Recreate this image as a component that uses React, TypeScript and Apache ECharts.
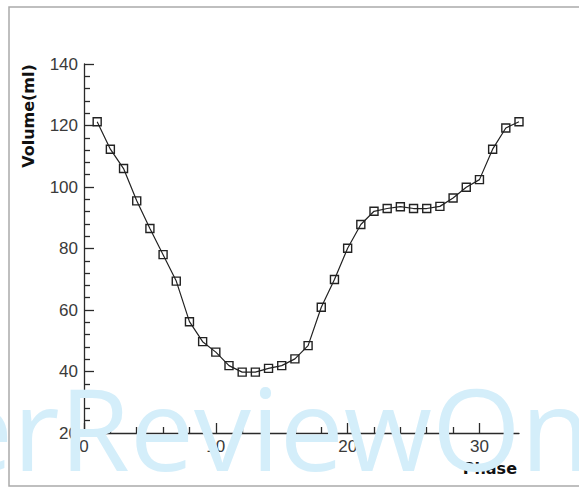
import React, { useEffect, useRef } from "react";
import * as echarts from "echarts";

const phases = [1, 2, 3, 4, 5, 6, 7, 8, 9, 10, 11, 12, 13, 14, 15, 16, 17, 18, 19, 20, 21, 22, 23, 24, 25, 26, 27, 28, 29, 30, 31, 32, 33];
const volumes = [121.2, 112.3, 106.0, 95.5, 86.5, 78.0, 69.4, 56.2, 49.7, 46.3, 41.9, 39.8, 39.8, 41.0, 41.9, 44.1, 48.4, 60.9, 69.9, 80.1, 87.8, 92.1, 93.0, 93.6, 93.0, 93.0, 93.7, 96.4, 99.9, 102.4, 112.3, 119.2, 121.2];
const xMajorTicks = [0, 10, 20, 30];
const xMinorTicks = [2, 4, 6, 8, 12, 14, 16, 18, 22, 24, 26, 28];
const yMin = 20;
const yMax = 140;
const yStep = 20;
const xMin = 0;
const xMax = 33;
const xTitle = "Phase";
const yTitle = "Volume(ml)";
const watermark = "erReviewOn";

export default function App() {
  const ref = useRef<HTMLDivElement>(null);
  useEffect(() => {
    document.body.style.margin = "0";
    const chart = echarts.init(ref.current!, null, { renderer: "svg" });
    const axisColor = "#2a2a2a";
    const labelFont = "'Liberation Sans', Arial, sans-serif";
    chart.setOption({
      animation: false,
      backgroundColor: "#ffffff",
      grid: { left: 84, right: 60, top: 64, bottom: 55 },
      xAxis: [
        {
          type: "value",
          min: xMin,
          max: xMax,
          interval: 10,
          position: "bottom",
          axisLine: { show: true, onZero: false, lineStyle: { color: axisColor, width: 1.3 } },
          axisTick: { show: true, inside: true, length: 10, customValues: xMajorTicks, lineStyle: { color: axisColor, width: 1.3 } },
          minorTick: { show: false },
          splitLine: { show: false },
          axisLabel: { show: true, customValues: xMajorTicks, margin: 5, color: "#3a3a3a", fontSize: 17, fontFamily: labelFont },
          name: xTitle,
          nameLocation: "end",
          nameGap: -2,
          nameTextStyle: { align: "right", verticalAlign: "top", padding: [27, 0, 0, 0], color: "#111", fontSize: 16, fontWeight: "bold", fontFamily: "'DejaVu Sans', sans-serif" },
        },
        {
          type: "value",
          min: xMin,
          max: xMax,
          interval: 10,
          position: "bottom",
          axisLine: { show: false, onZero: false },
          axisTick: { show: true, inside: true, length: 6, customValues: xMinorTicks, lineStyle: { color: axisColor, width: 1.3 } },
          axisLabel: { show: false },
          splitLine: { show: false },
        },
      ],
      yAxis: {
        type: "value",
        min: yMin,
        max: yMax,
        interval: yStep,
        axisLine: { show: true, onZero: false, lineStyle: { color: axisColor, width: 1.3 } },
        axisTick: { show: true, inside: true, length: 10, lineStyle: { color: axisColor, width: 1.3 } },
        minorTick: { show: true, splitNumber: 5, length: 6, lineStyle: { color: axisColor, width: 1.3 } },
        splitLine: { show: false },
        minorSplitLine: { show: false },
        axisLabel: { margin: 6, color: "#3a3a3a", fontSize: 17, fontFamily: labelFont },
      },
      series: [
        {
          type: "line",
          xAxisIndex: 0,
          data: phases.map((p, i) => [p, volumes[i]]),
          symbol: "rect",
          symbolSize: 8,
          showAllSymbol: true,
          lineStyle: { color: "#222", width: 1.2 },
          itemStyle: { color: "rgba(0,0,0,0)", borderColor: "#222", borderWidth: 1.4 },
          z: 5,
        },
      ],
      graphic: [
        {
          type: "rect",
          z: 1,
          silent: true,
          shape: { x: 9, y: 7, width: 620, height: 479 },
          style: { fill: "none", stroke: "#aaaaaa", lineWidth: 1.5 },
        },
        {
          type: "text",
          z: 1,
          x: 28,
          y: 116,
          rotation: Math.PI / 2,
          style: { text: yTitle, fill: "#111", font: "bold 16px 'DejaVu Sans', sans-serif", align: "center", verticalAlign: "middle" },
        },
        {
          type: "text",
          z: 100,
          silent: true,
          x: -51,
          y: 426,
          style: { text: watermark, fill: "#d4eefa", font: "114px 'Open Sans', sans-serif", align: "left", verticalAlign: "middle" },
        },
      ],
    });
    return () => chart.dispose();
  }, []);
  return <div ref={ref} style={{ width: 579, height: 488 }} />;
}
